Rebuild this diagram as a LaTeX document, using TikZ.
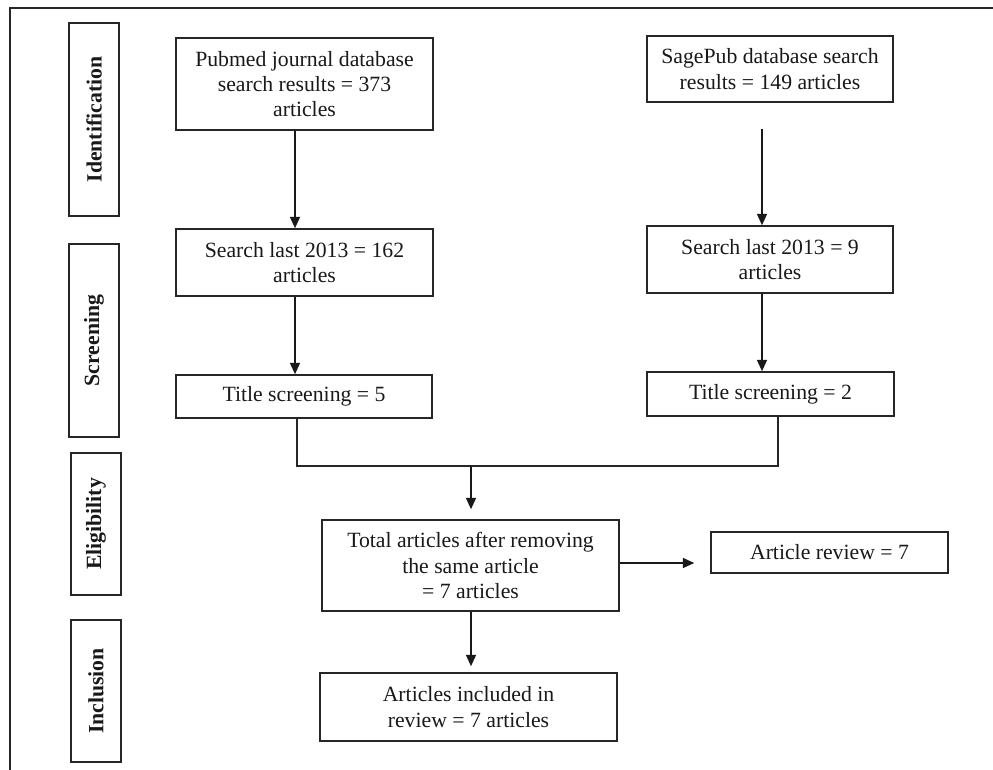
\documentclass[tikz,border=0pt]{standalone}
\usepackage{fontspec}
\setmainfont{Liberation Serif}
\usetikzlibrary{arrows.meta}
\begin{document}
\begin{tikzpicture}[x=0.75pt,y=-0.75pt,
  box/.style={draw=black!85,line width=1.2pt,inner sep=0pt,align=center,
    font=\fontsize{16.3}{19}\selectfont,text=black!90},
  phase/.style={draw=black!85,line width=1.2pt,inner sep=0pt,minimum width=37.5pt},
  plabel/.style={rotate=90,font=\fontsize{16.3}{18}\selectfont\bfseries,text=black!90},
  arr/.style={line width=1.2pt,draw=black!90,-{Triangle[length=8.5pt,width=7.5pt]}},
  lin/.style={line width=1.2pt,draw=black!85}]
\useasboundingbox[fill=white] (0,0) rectangle (993,770);
\draw[line width=1.4pt,black!85] (10,770) coordinate (fl) -- (10,8) coordinate (fc) -- (993,8) coordinate (fr);
% phase boxes
\node[phase,minimum height=144.75pt] (pid) at (94,119.5) {};
\node[plabel] at (pid) {Identification};
\node[phase,minimum height=144.75pt] (psc) at (94,340.5) {};
\node[plabel] at (psc) {Screening};
\node[phase,minimum height=106.5pt] (pel) at (96,524) {};
\node[plabel] at (pel) {Eligibility};
\node[phase,minimum height=106.5pt] (pin) at (96,691) {};
\node[plabel] at (pin) {Inclusion};
% main boxes
\node[box,minimum width=192.75pt,minimum height=69pt] (pub) at (304.5,84) {Pubmed journal database\\search results = 373\\articles};
\node[box,minimum width=192.75pt,minimum height=50.25pt] (s162) at (304.5,262.5) {Search last 2013 = 162\\articles};
\node[box,minimum width=192pt,minimum height=32.25pt] (t5) at (304,396.5) {Title screening = 5};
\node[box,minimum width=184.5pt,minimum height=49.5pt] (sage) at (770,69) {SagePub database search\\results = 149 articles};
\node[box,minimum width=184.5pt,minimum height=50.25pt] (s9) at (770,259.5) {Search last 2013 = 9\\articles};
\node[box,minimum width=185.25pt,minimum height=33pt] (t2) at (770.5,394) {Title screening = 2};
\node[box,minimum width=222.75pt,minimum height=68.25pt] (tot) at (470.5,565.5) {Total articles after removing\\the same article\\= 7 articles};
\node[box,minimum width=177.75pt,minimum height=30.75pt] (rev) at (829.5,552.5) {Article review = 7};
\node[box,minimum width=222.75pt,minimum height=51pt] (inc) at (468.5,707) {Articles included in\\review = 7 articles};
% connector guides
\coordinate (xa) at (295,0);
\coordinate (xb) at (762,0);
\coordinate (xc) at (297,0);
\coordinate (xd) at (778,0);
\coordinate (xm) at (471,0);
\coordinate (ym) at (0,466);
\coordinate (yr) at (0,563);
% connectors
\draw[arr] (pub.south -| xa) -- (s162.north -| xa);
\draw[arr] (s162.south -| xa) -- (t5.north -| xa);
\draw[arr,shorten <=19.5pt] (sage.south -| xb) -- (s9.north -| xb);
\draw[arr] (s9.south -| xb) -- (t2.north -| xb);
\draw[lin] (t5.south -| xc) -- (xc |- ym) -- (xd |- ym) -- (t2.south -| xd);
\draw[arr,shorten >=7.5pt] (xm |- ym) -- (tot.north -| xm);
\draw[arr,shorten >=4.5pt] (tot.south -| xm) -- (inc.north -| xm);
\draw[arr,shorten >=12pt] (tot.east |- yr) -- (rev.west |- yr);
\end{tikzpicture}
\end{document}
